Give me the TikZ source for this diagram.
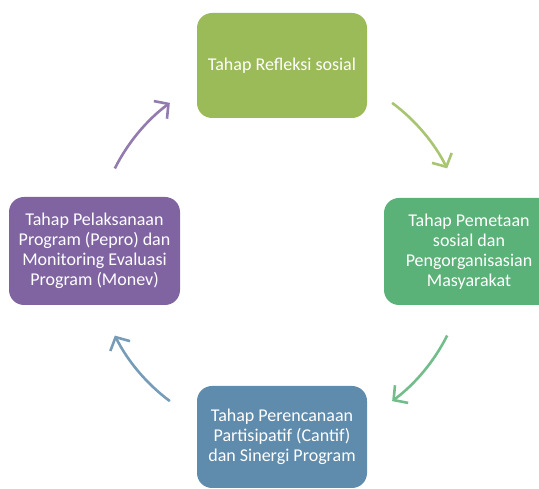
\documentclass[tikz,border=0pt]{standalone}
\usepackage{fontspec}
\setmainfont{Carlito}
\usetikzlibrary{arrows.meta}

\definecolor{refleksi}{HTML}{9BBB59}
\definecolor{pemetaan}{HTML}{5AB278}
\definecolor{rencana}{HTML}{5F8BAC}
\definecolor{pelaksana}{HTML}{8064A2}

\tikzset{
  stage/.style={rounded corners=15pt, minimum width=170pt, text=white,
    align=center, font=\fontsize{18}{20}\selectfont, inner sep=0pt},
  cycarrow/.style={line width=2.6pt, -{Straight Barb[length=10pt,width=22pt,line width=2.6pt]}}
}

\begin{document}
\begin{tikzpicture}[x=1pt,y=1pt]
\useasboundingbox (0,0) rectangle (539,489);
\clip (0,0) rectangle (539,489);
%\draw[step=20,gray,very thin] (0,0) grid (539,489);
\coordinate (c) at (281,237);

\node[stage,fill=refleksi,minimum height=105pt] (refleksi) at (282,423.5) {Tahap Refleksi sosial};
\node[stage,fill=pemetaan,minimum height=107pt] (pemetaan) at (469,237.5)
  {Tahap Pemetaan\\sosial dan\\Pengorganisasian\\Masyarakat};
\node[stage,fill=rencana,minimum height=102pt] (rencana) at (282,52)
  {Tahap Perencanaan\\Partisipatif (Cantif)\\dan Sinergi Program};
\node[stage,fill=pelaksana,minimum width=171pt,minimum height=108pt] (pelaksana) at (94.5,238)
  {Tahap Pelaksanaan\\Program (Pepro) dan\\Monitoring Evaluasi\\Program (Monev)};

\draw[cycarrow,refleksi!85!white]  (c) ++(53.3:186)   arc[start angle=53.3,  end angle=26.7,  radius=186];
\draw[cycarrow,pemetaan!85!white]  (c) ++(-26.7:186)  arc[start angle=-26.7, end angle=-53.3, radius=186];
\draw[cycarrow,rencana!85!white]   (c) ++(-126.7:186) arc[start angle=-126.7,end angle=-153.3,radius=186];
\draw[cycarrow,pelaksana!85!white] (c) ++(153.3:186)  arc[start angle=153.3, end angle=126.7, radius=186];

\end{tikzpicture}
\end{document}
